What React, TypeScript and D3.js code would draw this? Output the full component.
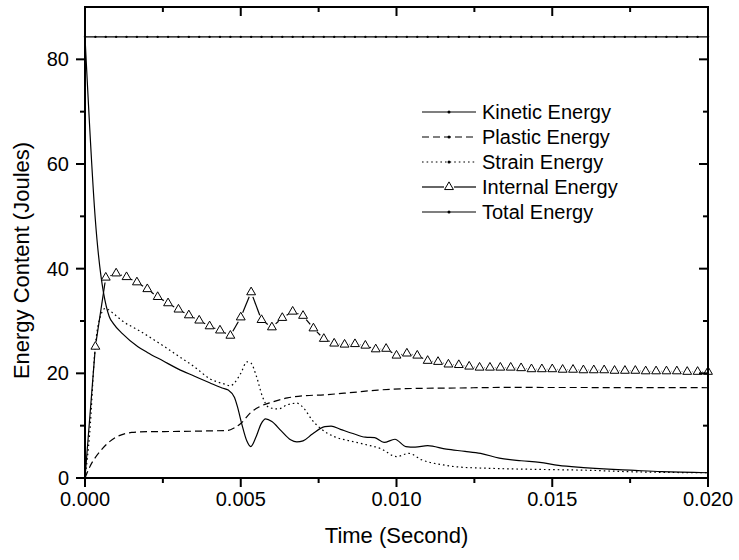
import React from "react";
import * as d3 from "d3";

// Simulation output: energy budget of the impact, sampled over 0–0.02 s.
type Pt = [number, number];

const kineticEnergy: Pt[] = [
  [0, 84.3], [0.00033, 49.5], [0.00078, 30.8], [0.0009, 29.6], [0.0012, 27.6],
  [0.0017, 25.1], [0.002, 24.0], [0.0025, 22.4], [0.003, 20.8], [0.0035, 19.5],
  [0.004, 18.2], [0.0044, 17.2], [0.0046, 16.8], [0.0048, 15.4], [0.0049, 13.5],
  [0.00503, 10.4], [0.0052, 7.0], [0.00532, 6.0], [0.0055, 8.0], [0.00565, 10.3],
  [0.0058, 11.3], [0.006, 10.8], [0.0063, 9.0], [0.0066, 7.3], [0.0068, 6.9],
  [0.007, 7.1], [0.0073, 8.4], [0.0077, 9.8], [0.0079, 9.9], [0.0082, 9.3],
  [0.0086, 8.5], [0.009, 7.8], [0.0093, 7.7], [0.0096, 6.8], [0.00995, 7.4],
  [0.0103, 6.0], [0.0106, 5.9], [0.011, 6.2], [0.0116, 5.5], [0.0122, 5.1],
  [0.0127, 4.7], [0.0133, 3.8], [0.014, 3.3], [0.0146, 3.0], [0.0152, 2.4],
  [0.016, 2.0], [0.0168, 1.7], [0.0175, 1.5], [0.0185, 1.2], [0.02, 1.0],
];

const plasticEnergy: Pt[] = [
  [0, 0], [0.00016, 2.2], [0.0005, 5.2], [0.0008, 7.0], [0.0011, 8.1],
  [0.0015, 8.7], [0.002, 8.85], [0.003, 8.9], [0.004, 9.0], [0.0046, 9.1],
  [0.0048, 9.6], [0.005, 10.4], [0.0053, 12.4], [0.0056, 13.6], [0.006, 14.5],
  [0.0065, 15.3], [0.007, 15.7], [0.0077, 15.9], [0.0085, 16.3], [0.0094, 16.8],
  [0.0105, 17.1], [0.012, 17.2], [0.0133, 17.3], [0.02, 17.25],
];

const strainEnergy: Pt[] = [
  [0, 0], [0.00015, 8.5], [0.00032, 24.5], [0.0005, 31.0], [0.00065, 32.4],
  [0.0009, 31.5], [0.0012, 30.0], [0.0017, 28.3], [0.0025, 25.3], [0.003, 23.3],
  [0.0035, 21.3], [0.004, 19.0], [0.0045, 17.9], [0.00466, 17.6], [0.0048, 18.2],
  [0.005, 20.0], [0.0052, 22.2], [0.00532, 22.0], [0.0055, 19.5], [0.0057, 15.5],
  [0.0059, 13.5], [0.0062, 13.2], [0.0065, 14.0], [0.0068, 14.3], [0.007, 13.5],
  [0.0073, 11.0], [0.0076, 9.3], [0.008, 7.9], [0.0085, 7.1], [0.009, 6.4],
  [0.0095, 5.6], [0.01, 4.1], [0.0104, 4.7], [0.0108, 3.5], [0.0115, 2.5],
  [0.012, 2.1], [0.013, 1.85], [0.014, 1.7], [0.015, 1.6], [0.016, 1.5],
  [0.0175, 1.2], [0.02, 1.0],
];

// Internal energy is reported on the output step grid (every 1/3000 s).
const OUTPUT_STEP = 1 / 3000;
const internalEnergy: number[] = [
  0, 25.1, 38.3, 39.1, 38.4, 37.4, 36.1, 34.6, 33.4, 32.2, 31.1, 30.1, 29.0, 28.2,
  27.2, 30.7, 35.5, 30.2, 28.8, 30.6, 31.8, 31.0, 28.6, 26.6, 25.7, 25.5, 25.6,
  25.3, 24.6, 24.7, 23.4, 23.8, 23.4, 22.4, 22.2, 21.7, 21.6, 21.3, 21.1, 21.1,
  21.1, 21.1, 21.0, 20.8, 20.8, 20.8, 20.7, 20.7, 20.6, 20.6, 20.6, 20.5, 20.5,
  20.5, 20.4, 20.4, 20.4, 20.4, 20.3, 20.3, 20.3,
];
const totalEnergy = 84.3;

const xMajorTicks = [0, 0.005, 0.01, 0.015, 0.02];
const xMinorTicks = [0.0025, 0.0075, 0.0125, 0.0175];
const yMajorTicks = [0, 20, 40, 60, 80];
const yMinorTicks = [10, 30, 50, 70];

const legendItems = [
  { label: "Kinetic Energy", dash: "none", marker: "dot" },
  { label: "Plastic Energy", dash: "7,4", marker: "dot" },
  { label: "Strain Energy", dash: "1.6,3", marker: "dot" },
  { label: "Internal Energy", dash: "none", marker: "tri" },
  { label: "Total Energy", dash: "none", marker: "dot" },
];

const W = 739;
const H = 560;
const L = 85, R = 708, T = 7, B = 478;
const FONT = "'Liberation Sans', Arial, Helvetica, sans-serif";

export default function App() {
  const x = d3.scaleLinear().domain([0, 0.02]).range([L, R]);
  const y = d3.scaleLinear().domain([0, 90]).range([B, T]);

  const smooth = d3
    .line<Pt>()
    .x((d) => x(d[0]))
    .y((d) => y(d[1]))
    .curve(d3.curveMonotoneX);

  const internalPts: Pt[] = internalEnergy.map((v, k) => [k * OUTPUT_STEP, v]);
  const gap = 5;
  const internalSegs: { x1: number; y1: number; x2: number; y2: number }[] = [];
  for (let i = 1; i < internalPts.length; i++) {
    const px = x(internalPts[i - 1][0]), py = y(internalPts[i - 1][1]);
    const qx = x(internalPts[i][0]), qy = y(internalPts[i][1]);
    const len = Math.hypot(qx - px, qy - py);
    const g0 = i - 1 === 0 ? 0 : gap;
    if (len <= g0 + gap) continue;
    const ux = (qx - px) / len, uy = (qy - py) / len;
    internalSegs.push({ x1: px + ux * g0, y1: py + uy * g0, x2: qx - ux * gap, y2: qy - uy * gap });
  }

  const tri = d3.symbol(d3.symbolTriangle, 34)() as string;
  const gridTimes = internalPts.map((p) => p[0]);

  const lineStyle = { fill: "none", stroke: "#000", strokeWidth: 1.2 };

  return (
    <svg
      width={W}
      height={H}
      style={{ position: "absolute", left: 0, top: 0, background: "#fff" }}
      fontFamily={FONT}
    >
      <rect x={0} y={0} width={W} height={H} fill="#fff" />

      {/* curves */}
      <line x1={x(0)} x2={x(0.02)} y1={y(totalEnergy)} y2={y(totalEnergy)} {...lineStyle} />
      {gridTimes.map((t, i) => (
        <circle key={"tot" + i} cx={x(t)} cy={y(totalEnergy)} r={1.2} fill="#000" />
      ))}
      <path d={smooth(kineticEnergy) || ""} {...lineStyle} />
      <path d={smooth(plasticEnergy) || ""} {...lineStyle} strokeDasharray="7,4" />
      <path d={smooth(strainEnergy) || ""} {...lineStyle} strokeDasharray="1.6,3" />
      {internalSegs.map((s, i) => (
        <line key={"seg" + i} {...s} stroke="#000" strokeWidth={1.2} />
      ))}
      {internalPts.slice(1).map((p, i) => (
        <path
          key={"tri" + i}
          d={tri}
          transform={`translate(${x(p[0])},${y(p[1])})`}
          fill="#fff"
          stroke="#000"
          strokeWidth={1}
        />
      ))}

      {/* frame */}
      <rect x={L} y={T} width={R - L} height={B - T} fill="none" stroke="#000" strokeWidth={2} />

      {/* bottom axis: outward ticks */}
      {xMajorTicks.map((t) => (
        <g key={"xm" + t}>
          <line x1={x(t)} x2={x(t)} y1={B} y2={B + 9} stroke="#000" strokeWidth={2} />
          <line x1={x(t)} x2={x(t)} y1={T} y2={T + 9} stroke="#000" strokeWidth={2} />
          <text x={x(t)} y={B + 28} fontSize={20} textAnchor="middle" fill="#000">
            {t.toFixed(3)}
          </text>
        </g>
      ))}
      {xMinorTicks.map((t) => (
        <g key={"xn" + t}>
          <line x1={x(t)} x2={x(t)} y1={B} y2={B + 5} stroke="#000" strokeWidth={2} />
          <line x1={x(t)} x2={x(t)} y1={T} y2={T + 5} stroke="#000" strokeWidth={2} />
        </g>
      ))}

      {/* left axis: outward ticks; right axis: inward ticks */}
      {yMajorTicks.map((v) => (
        <g key={"ym" + v}>
          <line x1={L - 9} x2={L} y1={y(v)} y2={y(v)} stroke="#000" strokeWidth={2} />
          <line x1={R - 9} x2={R} y1={y(v)} y2={y(v)} stroke="#000" strokeWidth={2} />
          <text x={L - 16} y={y(v) + 7} fontSize={20} textAnchor="end" fill="#000">
            {v}
          </text>
        </g>
      ))}
      {yMinorTicks.map((v) => (
        <g key={"yn" + v}>
          <line x1={L - 5} x2={L} y1={y(v)} y2={y(v)} stroke="#000" strokeWidth={2} />
          <line x1={R - 5} x2={R} y1={y(v)} y2={y(v)} stroke="#000" strokeWidth={2} />
        </g>
      ))}

      {/* axis titles */}
      <text x={(L + R) / 2} y={543} fontSize={22} textAnchor="middle" fill="#000">
        Time (Second)
      </text>
      <text
        transform={`translate(29,${(T + B) / 2 + 18}) rotate(-90)`}
        fontSize={22}
        textAnchor="middle"
        fill="#000"
      >
        Energy Content (Joules)
      </text>

      {/* legend */}
      {legendItems.map((it, i) => {
        const cy = 112 + i * 25;
        const lx0 = 422, lx1 = 476, mx = (lx0 + lx1) / 2;
        return (
          <g key={"lg" + i}>
            {it.marker === "tri" ? (
              <>
                <line x1={lx0} x2={mx - gap} y1={cy} y2={cy} stroke="#000" strokeWidth={1.2} />
                <line x1={mx + gap} x2={lx1} y1={cy} y2={cy} stroke="#000" strokeWidth={1.2} />
                <path d={tri} transform={`translate(${mx},${cy})`} fill="#fff" stroke="#000" strokeWidth={1} />
              </>
            ) : (
              <>
                <line
                  x1={lx0}
                  x2={lx1}
                  y1={cy}
                  y2={cy}
                  stroke="#000"
                  strokeWidth={1.2}
                  strokeDasharray={it.dash === "none" ? undefined : it.dash}
                />
                <circle cx={mx} cy={cy} r={1.5} fill="#000" />
              </>
            )}
            <text x={482} y={cy + 7} fontSize={20} fill="#000">
              {it.label}
            </text>
          </g>
        );
      })}
    </svg>
  );
}
